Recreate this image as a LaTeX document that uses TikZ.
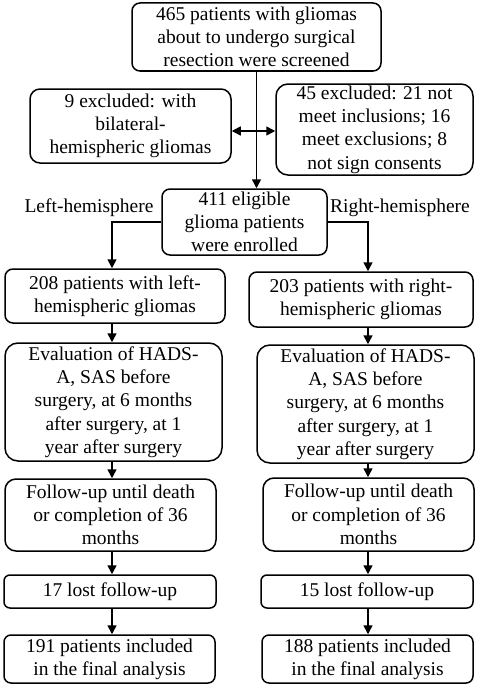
\documentclass[tikz,border=0pt]{standalone}
\usepackage{fontspec}
\setmainfont{Liberation Serif}
\usetikzlibrary{arrows.meta}
\begin{document}
\begin{tikzpicture}[x=1pt,y=-1pt,
  box/.style={draw=black, line width=1.5pt, rounded corners=8pt, inner sep=0pt, align=center,
    font=\fontsize{19.5pt}{23.3pt}\selectfont},
  bigbox/.style={box, rounded corners=13pt},
  lbl/.style={inner sep=0pt, font=\fontsize{19.5pt}{23.3pt}\selectfont},
  arr/.style={line width=1.5pt, -{Triangle[length=9pt,width=9pt]}},
  darr/.style={line width=1.5pt, {Triangle[length=9pt,width=9pt]}-{Triangle[length=9pt,width=9pt]}}
]
\useasboundingbox (0,0) rectangle (479,685);
\fill[white] (0,0) rectangle (479,685);

\node[box, minimum width=249pt, minimum height=68pt] (top) at (256.5,37) {465 patients with gliomas\\about to undergo surgical\\resection were screened};
\node[box, rounded corners=10pt, minimum width=201pt, minimum height=74pt] (exL) at (130.5,126) {9 excluded: with\\bilateral-\\hemispheric gliomas};
\node[box, rounded corners=12pt, minimum width=197pt, minimum height=91pt] (exR) at (374.5,129.5) {45 excluded: 21 not\\meet inclusions; 16\\meet exclusions; 8\\not sign consents};
\node[box, minimum width=165pt, minimum height=66pt] (enr) at (244.5,222) {411 eligible\\glioma patients\\were enrolled};

\node[lbl] (lh) at (89,208) {Left-hemisphere};
\node[lbl] (rh) at (400,208) {Right-hemisphere};

\node[box, minimum width=220pt, minimum height=54pt] (L1) at (115,296) {208 patients with left-\\hemispheric gliomas};
\node[box, minimum width=224pt, minimum height=55pt] (R1) at (361,299.5) {203 patients with right-\\hemispheric gliomas};
\node[bigbox, minimum width=217pt, minimum height=118pt] (L2) at (113.5,402) {Evaluation of HADS-\\A, SAS before\\surgery, at 6 months\\after surgery, at 1\\year after surgery};
\node[bigbox, minimum width=217pt, minimum height=118pt] (R2) at (365.5,404) {Evaluation of HADS-\\A, SAS before\\surgery, at 6 months\\after surgery, at 1\\year after surgery};
\node[bigbox, rounded corners=11pt, minimum width=211pt, minimum height=72pt] (L3) at (110.5,515) {Follow-up until death\\or completion of 36\\months};
\node[bigbox, rounded corners=11pt, minimum width=211pt, minimum height=73pt] (R3) at (368.5,514.5) {Follow-up until death\\or completion of 36\\months};
\node[box, rounded corners=6pt, minimum width=212pt, minimum height=33pt] (L4) at (110,591.5) {17 lost follow-up};
\node[box, rounded corners=6pt, minimum width=212pt, minimum height=33pt] (R4) at (367,591.5) {15 lost follow-up};
\node[box, rounded corners=7pt, minimum width=211pt, minimum height=48pt] (L5) at (109.5,659) {191 patients included\\in the final analysis};
\node[box, rounded corners=7pt, minimum width=211pt, minimum height=48pt] (R5) at (367.5,659) {188 patients included\\in the final analysis};

\coordinate (cl) at (112,0);
\coordinate (cr) at (368,0);
\coordinate (mid) at (257,131);

\draw[arr] (top.south) -- (top.south |- enr.north);
\draw[darr] (mid -| exL.east) -- (mid -| exR.west);
\draw[arr] (enr.west) -| (L1.north -| cl);
\draw[arr] (enr.east) -| (R1.north -| cr);
\draw[arr] (L1.south -| cl) -- (L2.north -| cl);
\draw[arr] (L2.south -| cl) -- (L3.north -| cl);
\draw[arr] (L3.south -| cl) -- (L4.north -| cl);
\draw[arr] (L4.south -| cl) -- (L5.north -| cl);
\draw[arr] (R1.south -| cr) -- (R2.north -| cr);
\draw[arr] (R2.south -| cr) -- (R3.north -| cr);
\draw[arr] (R3.south -| cr) -- (R4.north -| cr);
\draw[arr] (R4.south -| cr) -- (R5.north -| cr);
\end{tikzpicture}
\end{document}
